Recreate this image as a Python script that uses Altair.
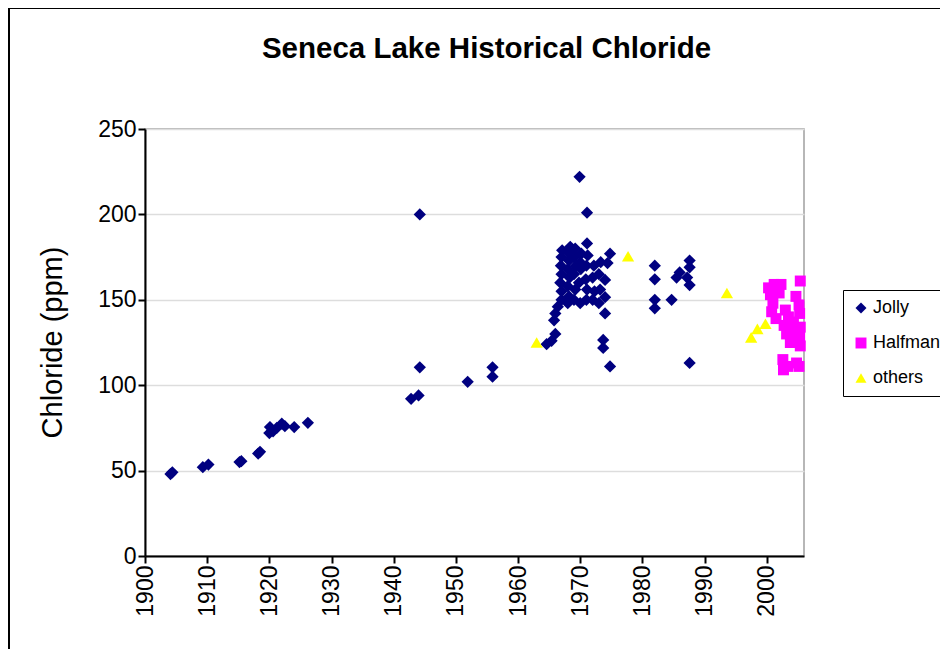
import altair as alt
import pandas as pd

# ---- data ----
jolly_year = [1904.1, 1904.4, 1909.3, 1910.2, 1915.2, 1915.5, 1918.2, 1918.5,
              1920.0, 1920.1, 1920.6, 1921.2, 1922.0, 1922.5, 1924.0, 1926.2,
              1942.8, 1944.0, 1944.2, 1944.2, 1951.9, 1955.9, 1955.9,
              1964.6, 1965.4, 1966.0, 1965.8, 1966.0, 1966.4,
              1967.0, 1967.0, 1966.8, 1967.0, 1966.9, 1967.0, 1967.1,
              1968.0, 1968.2, 1968.0, 1968.3, 1968.0, 1968.2, 1968.0, 1968.4,
              1969.0, 1969.2, 1969.0, 1969.3, 1969.0, 1969.2,
              1970.0, 1969.8, 1970.1, 1970.0, 1970.2, 1969.9,
              1971.0, 1971.1, 1970.9, 1971.0, 1971.2, 1971.1, 1971.1,
              1972.0, 1972.3, 1972.0, 1972.2,
              1973.0, 1973.2, 1973.0, 1973.3,
              1974.0, 1974.0, 1974.0, 1974.4, 1974.8, 1973.7, 1973.7, 1974.8,
              1982.0, 1982.0, 1982.0, 1982.0, 1984.7, 1987.6, 1987.6, 1986.0,
              1985.5, 1987.2, 1987.6, 1987.6]
jolly_ppm = [48, 49, 52, 53.5, 55, 55.5, 60, 61,
             72, 75.5, 73, 75, 77.5, 76, 75.5, 78,
             92, 94, 110.5, 200, 102, 105, 110.5,
             124, 126, 130, 138, 142, 146,
             150, 155, 160, 165, 170, 175, 179,
             148, 152, 158, 163, 168, 173, 178, 181,
             150, 156, 165, 170, 175, 180,
             148, 160, 168, 172, 177, 222,
             150, 156, 162, 170, 176, 183, 201,
             150, 155, 163, 170,
             148, 156, 165, 172,
             142, 151.5, 161.6, 171.5, 177, 126.5, 121.8, 111,
             170, 162, 150, 145, 150, 173, 169, 166,
             163, 163, 158.6, 113]

halfman_year = [2000.3, 2001.2, 2002.3, 2000.6, 2002.0, 2005.4,
                2001.0, 2000.8, 2001.5,
                2004.7, 2005.2, 2005.3, 2003.0, 2003.5, 2004.3, 2002.8, 2005.4,
                2004.0, 2003.2, 2005.3, 2004.5, 2005.4, 2003.8,
                2002.6, 2003.4, 2004.8, 2002.7, 2005.2]
halfman_ppm = [157, 159, 159, 153, 154, 161,
               148, 143, 139,
               152, 147, 142, 144, 140, 137, 135, 134,
               131, 130, 128, 126, 123, 125,
               115, 111, 113, 109, 111]

others_year = [1963.0, 1977.7, 1993.6, 1997.5, 1998.5, 1999.8]
others_ppm = [125, 175.5, 154, 128, 133, 136]

series_names = ["Jolly", "Halfman", "others"]
series_colors = ["#000080", "#FF00FF", "#FFFF00"]
series_shapes = ["diamond", "square", "triangle-up"]

x_ticks = list(range(1900, 2001, 10))
y_ticks = [0, 50, 100, 150, 200, 250]

# ---- build ----
df_j = pd.DataFrame({"year": jolly_year, "ppm": jolly_ppm, "series": "Jolly"})
df_h = pd.DataFrame({"year": halfman_year, "ppm": halfman_ppm, "series": "Halfman"})
df_o = pd.DataFrame({"year": others_year, "ppm": others_ppm, "series": "others"})

FONT = "Liberation Sans"

color = alt.Color(
    "series:N",
    scale=alt.Scale(domain=series_names, range=series_colors),
    legend=alt.Legend(
        title=None, orient="none", legendX=698, legendY=161,
        direction="vertical", strokeColor="black", fillColor="white",
        padding=9, labelFont=FONT, labelFontSize=18, labelColor="black",
        symbolSize=120, rowPadding=17, labelOffset=3, symbolStrokeWidth=0,
    ),
)
shape = alt.Shape("series:N", scale=alt.Scale(domain=series_names, range=series_shapes))

x = alt.X(
    "year:Q",
    scale=alt.Scale(domain=[1900, 2006], nice=False, zero=False),
    axis=alt.Axis(values=x_ticks, format="d", labelAngle=270, title=None,
                  grid=False, labelPadding=2),
)
y = alt.Y(
    "ppm:Q",
    scale=alt.Scale(domain=[0, 250], nice=False),
    axis=alt.Axis(values=y_ticks, title="Chloride (ppm)", grid=True,
                  labelPadding=2, titleAngle=270, titleX=-93, titleY=213,
                  titleAlign="center", titleBaseline="middle",
                  titleFontSize=29, titleFontWeight="normal"),
)


def layer(df, size):
    return alt.Chart(df).mark_point(filled=True, opacity=1, size=size).encode(
        x=x, y=y, color=color, shape=shape
    )


frame = alt.Chart(pd.DataFrame({"a": [0]})).mark_rect(
    fill="white", fillOpacity=0, stroke="black", strokeWidth=2
).encode(
    x=alt.value(-136), x2=alt.value(900), y=alt.value(-121), y2=alt.value(700)
)

chart = alt.layer(
    frame,
    layer(df_j, 150),
    layer(df_h, 120),
    layer(df_o, 150),
).properties(
    width=659,
    height=427,
    autosize=alt.AutoSizeParams(type="none"),
    padding={"left": 137, "top": 121, "right": 136, "bottom": 93},
    title=alt.TitleParams(
        "Seneca Lake Historical Chloride", font=FONT, fontSize=29.5,
        fontWeight="bold", color="black", anchor="middle", dx=12,
        baseline="alphabetic", offset=-80,
    ),
).configure_view(
    stroke="#A0A0A0", strokeWidth=1.5
).configure_axis(
    labelFont=FONT, labelFontSize=23, labelColor="black",
    titleFont=FONT, titleColor="black",
    domainColor="black", domainWidth=2, tickColor="black", tickWidth=2,
    tickSize=7, gridColor="#DDDDDD", gridWidth=1.5,
)

chart.save("out.html", embed_options={"renderer": "svg", "actions": False})
